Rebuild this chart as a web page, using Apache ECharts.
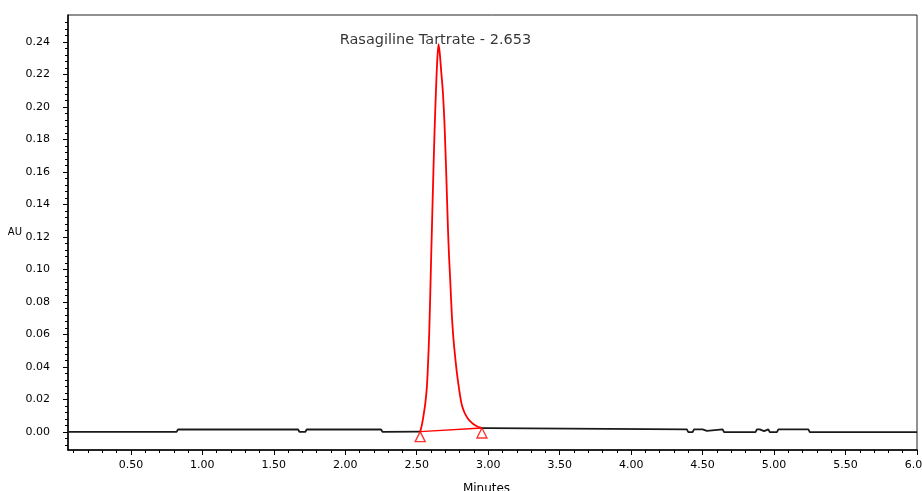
<!DOCTYPE html>
<html>
<head>
<meta charset="utf-8">
<title>Rasagiline Tartrate</title>
<script src="https://cdn.jsdelivr.net/npm/echarts@6/dist/echarts.min.js"></script>
<style>
html, body { margin: 0; padding: 0; background: #fff; }
#chart { width: 922px; height: 491px; }
</style>
</head>
<body>
<div id="chart"></div>
<script>
// black part of the trace (null = gap where the peak is drawn in red)
var baseTime = [0.06, 0.82, 0.83, 1.67, 1.68, 1.72, 1.73, 2.25, 2.26, 2.524,
    2.70,
    2.956, 3.00, 3.01, 4.39, 4.40, 4.43, 4.44, 4.50, 4.51, 4.53, 4.54, 4.64, 4.65,
    4.87, 4.88, 4.90, 4.91, 4.93, 4.94, 4.96, 4.97, 5.02, 5.03, 5.24, 5.25, 6.00];
var baseAU = [0.0002, 0.0002, 0.0016, 0.0016, 0.0001, 0.0001, 0.0016, 0.0016, 0.0002, 0.0003,
    null,
    0.0025, 0.0025, 0.0017, 0.0017, 0.0000, 0.0000, 0.0017, 0.0017, 0.0008, 0.0008, 0.0017, 0.0017, 0.0000,
    0.0000, 0.0017, 0.0017, 0.0006, 0.0006, 0.0017, 0.0017, 0.0000, 0.0000, 0.0017, 0.0017, 0.0000, 0.0000];

// integrated peak (red)
var peakTime = [2.524, 2.535, 2.547, 2.559, 2.571, 2.579, 2.587, 2.594, 2.601, 2.609, 2.617, 2.625, 2.634,
    2.643, 2.652, 2.661, 2.671, 2.683, 2.694, 2.706, 2.718, 2.726, 2.734, 2.746, 2.757, 2.769, 2.780,
    2.792, 2.804, 2.816, 2.833, 2.851, 2.868, 2.886, 2.903, 2.921, 2.938, 2.956];
var peakAU = [0.0003, 0.004, 0.010, 0.017, 0.028, 0.042, 0.060, 0.083, 0.108, 0.135, 0.162, 0.186, 0.209,
    0.228, 0.2385, 0.233, 0.222, 0.209, 0.190, 0.160, 0.126, 0.108, 0.094, 0.071, 0.057, 0.046, 0.037,
    0.029, 0.022, 0.0165, 0.0122, 0.0092, 0.0072, 0.0057, 0.0045, 0.0036, 0.0030, 0.0025];

// peak start / end markers (drop baseline)
var markTime = [2.524, 2.956];
var markAU = [0.0003, 0.0025];

var peakName = 'Rasagiline Tartrate';
var apexTime = 2.652, apexAU = 0.2385, apexLabel = '2.653';

// axes
var xRange = [0.06, 6.00];
var yRange = [-0.011, 0.2565];
var xMinorTicks = [0.1, 6.0, 0.1];   // min, max, step
var xMajorTicks = [0.5, 6.0, 0.5];
var yMinorTicks = [-0.008, 0.252, 0.004];
var yMajorTicks = [0.00, 0.24, 0.02];

var W = 922, H = 491;
var box = { left: 68, right: 917, top: 15, bottom: 450 };

function px(t) { return box.left + (t - xRange[0]) / (xRange[1] - xRange[0]) * (box.right - box.left); }
function py(v) { return box.bottom - (v - yRange[0]) / (yRange[1] - yRange[0]) * (box.bottom - box.top); }

function zip(a, b) {
    var out = [];
    for (var i = 0; i < a.length; i++) out.push([a[i], b[i] === null ? '-' : b[i]]);
    return out;
}

var fontTick = { fontFamily: 'DejaVu Sans', fontSize: 11, color: '#000' };

var chart = echarts.init(document.getElementById('chart'), null, { renderer: 'canvas' });

var hiddenX = function (g, r) { return { type: 'value', gridIndex: g, min: r[0], max: r[1], show: false }; };
var hiddenY = hiddenX;

var grids = [
    { left: box.left, right: W - box.right, top: box.top, bottom: H - box.bottom,
      show: true, borderColor: '#222', borderWidth: 1, backgroundColor: 'transparent' },
    { left: px(xMinorTicks[0]), right: W - px(xMinorTicks[1]), top: box.top, bottom: H - box.bottom },
    { left: box.left, right: W - box.right, top: py(yMinorTicks[1]), bottom: H - py(yMinorTicks[0]) },
    { left: px(xMajorTicks[0]), right: W - px(xMajorTicks[1]), top: box.top, bottom: H - box.bottom },
    { left: box.left, right: W - box.right, top: py(yMajorTicks[1]), bottom: H - py(yMajorTicks[0]) }
];
grids.forEach(function (g) { g.containLabel = false; g.outerBoundsMode = 'none'; });

var option = {
    animation: false,
    backgroundColor: '#fff',
    grid: grids,
    xAxis: [{
        type: 'value', gridIndex: 0, min: xRange[0], max: xRange[1],
        name: 'Minutes', nameLocation: 'middle', nameGap: 33,
        nameTextStyle: { fontFamily: 'DejaVu Sans', fontSize: 12, color: '#000', padding: [0, 12, 0, 0] },
        axisLine: { show: true, onZero: false, lineStyle: { color: '#000', width: 1.5 } },
        axisTick: { show: false }, axisLabel: { show: false }, splitLine: { show: false }
    }, {
        type: 'value', gridIndex: 1, min: xMinorTicks[0], max: xMinorTicks[1], interval: xMinorTicks[2],
        axisLine: { show: false, onZero: false },
        axisTick: { show: true, length: 3, lineStyle: { color: '#000', width: 1 } },
        axisLabel: { show: false }, splitLine: { show: false }
    }, hiddenX(2, xRange), {
        type: 'value', gridIndex: 3, min: xMajorTicks[0], max: xMajorTicks[1], interval: xMajorTicks[2],
        axisLine: { show: false, onZero: false },
        axisTick: { show: true, length: 5, lineStyle: { color: '#000', width: 1 } },
        axisLabel: Object.assign({ margin: 10, formatter: function (v) { return v.toFixed(2); } }, fontTick),
        splitLine: { show: false }
    }, hiddenX(4, xRange)],
    yAxis: [{
        type: 'value', gridIndex: 0, min: yRange[0], max: yRange[1],
        name: 'AU', nameLocation: 'middle', nameRotate: 0, nameGap: 46,
        nameTextStyle: { fontFamily: 'DejaVu Sans', fontSize: 10, color: '#000' },
        axisLine: { show: true, onZero: false, lineStyle: { color: '#000', width: 1.5 } },
        axisTick: { show: false }, axisLabel: { show: false }, splitLine: { show: false }
    }, hiddenY(1, yRange), {
        type: 'value', gridIndex: 2, min: yMinorTicks[0], max: yMinorTicks[1], interval: yMinorTicks[2],
        axisLine: { show: false, onZero: false },
        axisTick: { show: true, length: 3, lineStyle: { color: '#000', width: 1 } },
        axisLabel: { show: false }, splitLine: { show: false }
    }, hiddenY(3, yRange), {
        type: 'value', gridIndex: 4, min: yMajorTicks[0], max: yMajorTicks[1], interval: yMajorTicks[2],
        axisLine: { show: false, onZero: false },
        axisTick: { show: true, length: 5, lineStyle: { color: '#000', width: 1 } },
        axisLabel: Object.assign({ margin: 18, formatter: function (v) { return v.toFixed(2); } }, fontTick),
        splitLine: { show: false }
    }],
    series: [{
        name: 'trace', type: 'line', xAxisIndex: 0, yAxisIndex: 0,
        data: zip(baseTime, baseAU), showSymbol: false, connectNulls: false,
        lineStyle: { color: '#1a1a1a', width: 1.8 }, z: 3
    }, {
        name: peakName, type: 'line', xAxisIndex: 0, yAxisIndex: 0,
        data: zip(peakTime, peakAU), showSymbol: false, smooth: 0.2,
        lineStyle: { color: '#ff0000', width: 1.8 }, z: 4
    }, {
        name: 'drop baseline', type: 'line', xAxisIndex: 0, yAxisIndex: 0,
        data: zip(markTime, markAU), showSymbol: false,
        lineStyle: { color: '#ff0000', width: 1.4 }, z: 4
    }, {
        name: 'peak marks', type: 'scatter', xAxisIndex: 0, yAxisIndex: 0,
        data: zip(markTime, markAU), symbol: 'triangle', symbolSize: [10, 10], symbolOffset: [0, 5],
        itemStyle: { color: '#fff', borderColor: '#ff0000', borderWidth: 1.4 }, z: 5
    }, {
        name: 'apex', type: 'scatter', xAxisIndex: 0, yAxisIndex: 0,
        data: [[apexTime, apexAU]], symbolSize: 0,
        label: {
            show: true, position: 'inside', offset: [-3, -4],
            formatter: peakName + ' - ' + apexLabel,
            fontFamily: 'DejaVu Sans', fontSize: 14.5, color: '#000'
        }, z: 6
    }]
};

chart.setOption(option);
</script>
</body>
</html>
